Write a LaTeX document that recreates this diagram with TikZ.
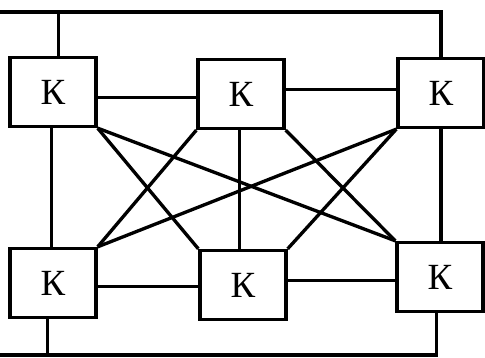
\documentclass[tikz,border=0pt]{standalone}
\usepackage{fontspec}
\setmainfont{Liberation Serif}
\begin{document}
\begin{tikzpicture}[x=0.02cm, y=-0.02cm, line width=1.9pt,
    kbox/.style={draw, minimum width=1.72cm, minimum height=1.38cm,
        inner sep=0pt, font=\fontsize{21}{23}\selectfont}]
    \useasboundingbox (0,0) rectangle (485,358);

    % blocks
    \node[kbox] (tl) at (53,92)  {К};
    \node[kbox] (tm) at (241,94) {К};
    \node[kbox] (tr) at (441,93) {К};
    \node[kbox] (bl) at (53,283) {К};
    \node[kbox] (bm) at (243,285) {К};
    \node[kbox] (br) at (440,277) {К};

    \coordinate (top) at (0,12);
    \coordinate (bot) at (0,355);

    % rows
    \draw ([yshift=-3pt]tl.east) -- ([yshift=-3pt]tl.east -| tm.west);
    \draw ([yshift=2pt]tr.west) -- ([yshift=2pt]tr.west -| tm.east);
    \draw ([yshift=-2pt]bl.east) -- ([yshift=-2pt]bl.east -| bm.west);
    \draw ([yshift=-2pt]br.west) -- ([yshift=-2pt]br.west -| bm.east);

    % columns
    \draw ([xshift=-1pt]tl.south) -- ([xshift=-1pt]tl.south |- bl.north);
    \draw ([xshift=-1pt]tm.south) -- ([xshift=-1pt]tm.south |- bm.north);
    \draw (tr.south) -- (tr.south |- br.north);

    % loops
    \draw ([xshift=3pt]tl.north) |- (top) -| (tr.north);
    \draw ([xshift=-3pt]bl.south) |- (bot) -| ([xshift=-2pt]br.south);

    % crossings
    \draw (tl.south east) -- (bm.north west);
    \draw (tl.south east) -- (br.north west);
    \draw (tm.south west) -- (bl.north east);
    \draw (tm.south east) -- (br.north west);
    \draw (tr.south west) -- (bl.north east);
    \draw (tr.south west) -- (bm.north east);
\end{tikzpicture}
\end{document}
